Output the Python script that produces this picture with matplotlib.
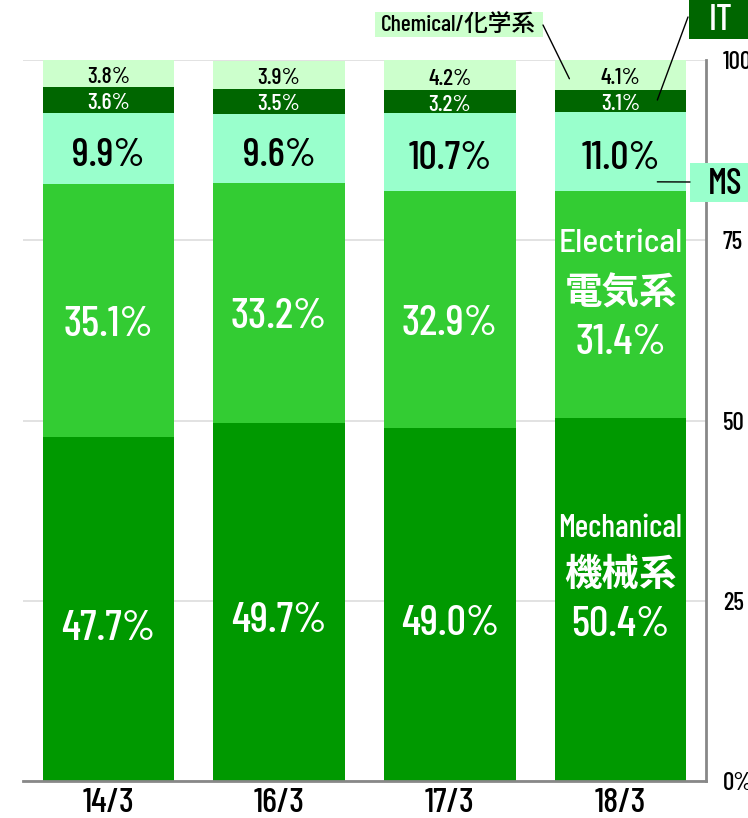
import matplotlib
matplotlib.use("Agg")
import matplotlib.pyplot as plt
from matplotlib import font_manager
from matplotlib.patches import Rectangle, ConnectionPatch

names = {f.name for f in font_manager.fontManager.ttflist}
LAT = 'Barlow Condensed' if 'Barlow Condensed' in names else 'DejaVu Sans'
LAT2 = 'Barlow Semi Condensed' if 'Barlow Semi Condensed' in names else LAT
FAM = [LAT, 'Noto Sans CJK JP', 'DejaVu Sans']
CJK = ['Noto Sans CJK JP', 'DejaVu Sans']
plt.rcParams['font.family'] = FAM
plt.rcParams['font.weight'] = 'medium'

categories = ['14/3', '16/3', '17/3', '18/3']
mechanical = [47.7, 49.7, 49.0, 50.4]
electrical = [35.1, 33.2, 32.9, 31.4]
ms = [9.9, 9.6, 10.7, 11.0]
it = [3.6, 3.5, 3.2, 3.1]
chemical = [3.8, 3.9, 4.2, 4.1]
yticks = [0, 25, 50, 75, 100]
ytick_labels = ['0%', '25', '50', '75', '100']

W, H = 748, 818
def fx(px):
    return px / W
def fy(py):
    return 1 - py / H

series = [
    ('Mechanical', mechanical, '#009900', 'white', 31, -2.7),
    ('Electrical', electrical, '#33CC33', 'white', 31, -2.0),
    ('MS', ms, '#99FFCC', 'black', 29, -1.0),
    ('IT', it, '#006600', 'white', 17, -0.4),
    ('Chemical', chemical, '#CCFFCC', 'black', 17, -0.5),
]

fig = plt.figure(figsize=(W / 100, H / 100), dpi=100)
ax = fig.add_axes([fx(23), fy(781), fx(706) - fx(23), fy(60) - fy(781)])
x = list(range(len(categories)))
bottom = [0] * len(categories)
for name, vals, col, tcol, fs, dy in series:
    ax.bar(x, vals, width=0.77, bottom=bottom, color=col, zorder=2)
    for i, v in enumerate(vals):
        cy = bottom[i] + v / 2
        if i == 3 and name in ('Mechanical', 'Electrical'):
            continue
        ax.text(i, cy + dy, f'{v:.1f}%', ha='center', va='center', color=tcol,
                fontsize=fs, zorder=3)
    bottom = [b + v for b, v in zip(bottom, vals)]

# multi-line labels in the last bar
i = 3
ax.text(i, 74.6, 'Electrical', ha='center', va='center', color='white', fontsize=24,
        family=[LAT2, 'DejaVu Sans'], zorder=3)
ax.text(i, 67.7, '電気系', ha='center', va='center', color='white', fontsize=27,
        fontweight='bold', family=CJK, zorder=3)
ax.text(i, 60.7, f'{electrical[i]:.1f}%', ha='center', va='center', color='white', fontsize=31, zorder=3)
ax.text(i, 35.0, 'Mechanical', ha='center', va='center', color='white', fontsize=23,
        family=[LAT, 'DejaVu Sans'], zorder=3)
ax.text(i, 28.7, '機械系', ha='center', va='center', color='white', fontsize=27,
        fontweight='bold', family=CJK, zorder=3)
ax.text(i, 21.6, f'{mechanical[i]:.1f}%', ha='center', va='center', color='white', fontsize=31, zorder=3)

ax.set_xlim(-0.5, 3.5)
ax.set_ylim(0, 100)
ax.set_xticks(x)
ax.set_xticklabels(categories, fontsize=25)
ax.set_yticks(yticks)
ax.set_yticklabels(ytick_labels, fontsize=18, ha='left')
ax.yaxis.tick_right()
ax.tick_params(axis='both', length=0)
ax.tick_params(axis='y', pad=12)
ax.tick_params(axis='x', pad=5)
ax.grid(axis='y', color='#dddddd', linewidth=1.2, zorder=0)
for s in ['top', 'left']:
    ax.spines[s].set_visible(False)
for s in ['bottom', 'right']:
    ax.spines[s].set_color('#888888')
    ax.spines[s].set_linewidth(2)

# callout boxes
fig.patches.append(Rectangle((fx(375), fy(37)), fx(543) - fx(375), fy(12) - fy(37),
                             transform=fig.transFigure, fc='#CCFFCC', ec='none', zorder=1))
fig.text(fx(458), fy(24), 'Chemical/化学系', ha='center', va='center', fontsize=17, color='black')
fig.patches.append(Rectangle((fx(689), fy(39)), fx(760) - fx(689), fy(0) - fy(39),
                             transform=fig.transFigure, fc='#006600', ec='none', zorder=1))
fig.text(fx(721), fy(21), 'IT', ha='center', va='center', fontsize=26, color='white')
fig.patches.append(Rectangle((fx(690), fy(202)), fx(760) - fx(690), fy(163) - fy(202),
                             transform=fig.transFigure, fc='#99FFCC', ec='none', zorder=1))
fig.text(fx(725), fy(184), 'MS', ha='center', va='center', fontsize=26, color='black')

for (dx, dyy), (px, py) in [((2.70, 97.4), (543, 25)), ((3.215, 94.45), (688, 17)),
                            ((3.215, 83.1), (690, 182))]:
    con = ConnectionPatch(xyA=(dx, dyy), coordsA=ax.transData, xyB=(fx(px), fy(py)),
                          coordsB=fig.transFigure, color='black', lw=1, zorder=5)
    fig.add_artist(con)

fig.savefig('out.png', dpi=100)
